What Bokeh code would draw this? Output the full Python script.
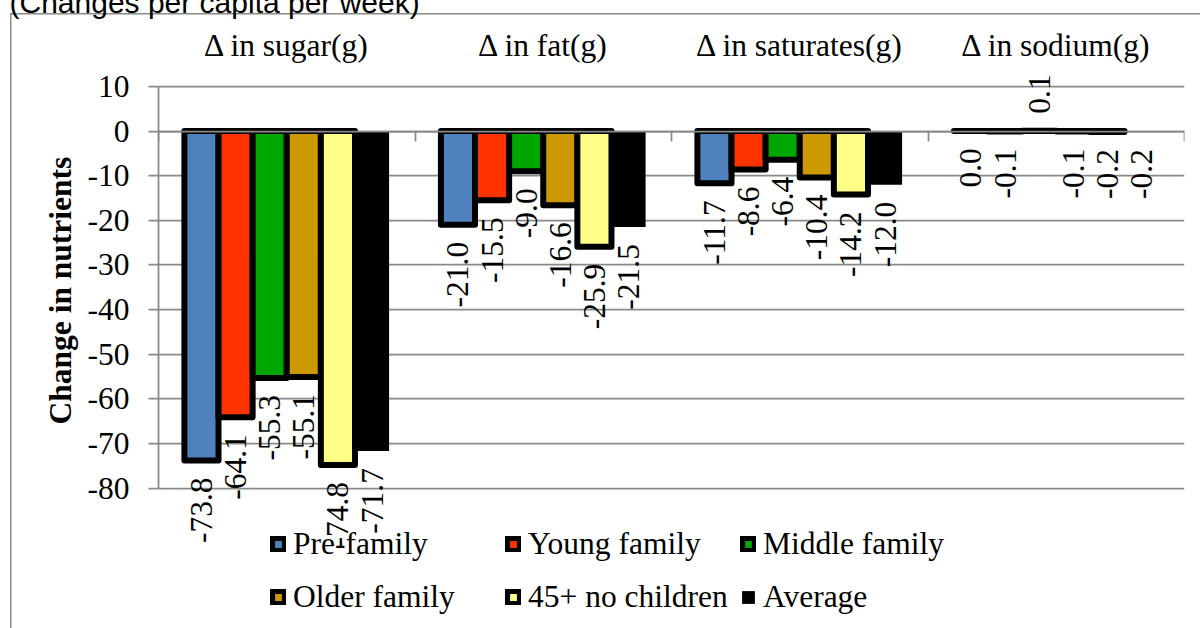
import math
from bokeh.plotting import figure
from bokeh.models import (FactorRange, Range1d, LinearAxis, FixedTicker, Title,
                          PrintfTickFormatter, ColumnDataSource, LabelSet, Legend,
                          LegendItem)
from bokeh.transform import dodge
from bokeh.core.properties import value
from bokeh.embed import file_html
from bokeh.resources import INLINE

# ---------------- data ----------------
groups = ["\u0394 in sugar(g)", "\u0394 in fat(g)", "\u0394 in saturates(g)", "\u0394 in sodium(g)"]
series = ["Pre-family", "Young family", "Middle family", "Older family", "45+ no children", "Average"]
pre_family = [-73.8, -21.0, -11.7, 0.0]
young_family = [-64.1, -15.5, -8.6, -0.1]
middle_family = [-55.3, -9.0, -6.4, 0.1]
older_family = [-55.1, -16.6, -10.4, -0.1]
no_children_45 = [-74.8, -25.9, -14.2, -0.2]
average = [-71.7, -21.5, -12.0, -0.2]
y_ticks = [-80, -70, -60, -50, -40, -30, -20, -10, 0, 10]
chart_title = "(Changes per capita per week)"
y_title = "Change in nutrients"

values = [pre_family, young_family, middle_family, older_family, no_children_45, average]
colors = ["#4F81BD", "#FF3300", "#00A600", "#CC9900", "#FFFF88", "#000000"]

SERIF_NAME = "'Liberation Serif', 'Times New Roman', serif"
SERIF = value(SERIF_NAME)
FS = "31.5px"
GRID = "#898989"

# ---------------- layout (pixels) ----------------
SHIFT = 40            # canvas starts above the window so the title is cut like the source
W, H = 1200, 628 + SHIFT
FRAME_TOP = 70        # page px of the top of the drawing area
PX_TOP_TICK = 86      # page px of the highest gridline
PX_BOTTOM_TICK = 487.6
ppu = (PX_BOTTOM_TICK - PX_TOP_TICK) / (y_ticks[-1] - y_ticks[0])
y_hi = y_ticks[-1] + (PX_TOP_TICK - FRAME_TOP) / ppu
y_lo = y_ticks[0] - (628 - PX_BOTTOM_TICK) / ppu

p = figure(x_range=FactorRange(*groups, range_padding=0), y_range=Range1d(y_lo, y_hi),
           width=W, height=H, title=chart_title, x_axis_location="above",
           output_backend="svg", toolbar_location=None,
           min_border_left=158, min_border_right=16, min_border_top=FRAME_TOP + SHIFT,
           min_border_bottom=0)
p.styles = {
    "margin-top": "-%dpx" % SHIFT,
    "background-color": "white",
    "background-image": "linear-gradient(%s, %s), linear-gradient(%s, %s)" % (GRID, GRID, GRID, GRID),
    "background-size": "1.5px 100%, 100% 1.5px",
    "background-position": "10px %dpx, 10px %dpx" % (13 + SHIFT, 13 + SHIFT),
    "background-repeat": "no-repeat",
}
p.outline_line_color = None
p.background_fill_color = None
p.border_fill_color = None

p.title.text_font = "Liberation Sans"
p.title.text_font_size = "30px"
p.title.text_font_style = "normal"
p.title.text_color = "black"
p.title.align = "left"
p.title.offset = -149
p.title.standoff = 11

# y axis
yax = p.yaxis[0]
yax.bounds = (y_ticks[0], y_ticks[-1])
yax.ticker = FixedTicker(ticks=y_ticks)
yax.formatter = PrintfTickFormatter(format="%d")
yax.major_label_text_font = SERIF_NAME
yax.major_label_text_font_size = FS
yax.major_label_text_color = "black"
yax.major_label_standoff = 19
yax.major_tick_out = 10
yax.major_tick_in = 0
yax.minor_tick_out = 0
yax.minor_tick_in = 0
yax.major_tick_line_color = GRID
yax.major_tick_line_width = 1.75
yax.axis_line_color = GRID
yax.axis_line_width = 1.75

# y-axis title, centred on the gridded part of the axis
p.add_layout(Title(text=y_title, align="left", offset=204, standoff=14,
                   text_font=SERIF_NAME, text_font_size=FS, text_font_style="bold",
                   text_color="black"), "left")

# category axis (labels at top)
xax = p.xaxis[0]
xax.major_label_text_font = SERIF_NAME
xax.major_label_text_font_size = FS
xax.major_label_text_color = "black"
xax.major_label_standoff = 8
xax.major_tick_out = 0
xax.major_tick_in = 0
xax.axis_line_color = None

p.xgrid.visible = False
p.ygrid.grid_line_color = GRID
p.ygrid.grid_line_width = 1.75

# axis crossing at zero with ticks at the group boundaries (pointing down)
boundaries = list(range(len(groups) + 1))
zax = LinearAxis(fixed_location=0, ticker=FixedTicker(ticks=boundaries))
zax.major_label_overrides = {b: "" for b in boundaries}
zax.major_label_text_font_size = "0px"
zax.major_label_standoff = 0
zax.major_tick_out = 0
zax.major_tick_in = 10
zax.minor_tick_out = 0
zax.minor_tick_in = 0
zax.major_tick_line_color = GRID
zax.major_tick_line_width = 1.75
zax.axis_line_color = GRID
zax.axis_line_width = 1.75
p.add_layout(zax, "above")

# bars
bw = 0.133
renderers = []
for i, (name, vals, col) in enumerate(zip(series, values, colors)):
    off = (i - 2.5) * bw
    src = ColumnDataSource(dict(
        group=groups, val=vals, zero=[0] * len(vals),
        label=["%.1f" % v for v in vals],
        align=["left" if v > 0 else "right" for v in vals],
        yoff=[17 if v > 0 else -17 for v in vals],
    ))
    is_avg = (name == "Average")
    r = p.vbar(x=dodge("group", off, range=p.x_range), top="zero", bottom="val", width=bw,
               source=src, fill_color=col,
               line_color=None if is_avg else "black", line_width=0 if is_avg else 6,
               line_join="round")
    renderers.append(r)
    ls = LabelSet(x=dodge("group", off, range=p.x_range), y="val", text="label", source=src,
                  angle=math.pi / 2, text_align="align", text_baseline="middle",
                  y_offset="yoff", text_font=SERIF, text_font_size=FS, text_color="black")
    p.add_layout(ls)

# legends: three columns of two rows
col_x = [112, 347, 582]
for c in range(3):
    items = [LegendItem(label=series[c], renderers=[renderers[c]]),
             LegendItem(label=series[c + 3], renderers=[renderers[c + 3]])]
    leg = Legend(items=items, location=(col_x[c], 13), orientation="vertical",
                 padding=0, spacing=17, margin=0, border_line_color=None,
                 background_fill_alpha=0, glyph_width=16, glyph_height=16,
                 label_standoff=7, label_text_font=SERIF_NAME,
                 label_text_font_size=FS, label_text_color="black")
    p.add_layout(leg)

open("out.html", "w").write(file_html(p, INLINE))
